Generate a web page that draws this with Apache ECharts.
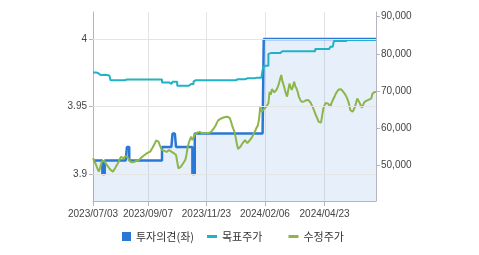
<!DOCTYPE html>
<html><head><meta charset="utf-8">
<script src="https://cdn.jsdelivr.net/npm/echarts@6/dist/echarts.min.js"></script>
<style>html,body{margin:0;padding:0;background:#fff}#c{width:479px;height:255px}</style>
</head><body><div id="c"></div>
<script>
// Korean trading-day calendar (categories)
const startDate = '2023-07-03';
const endDate = '2024-06-28';
const holidays = ['2023-08-15','2023-09-28','2023-09-29','2023-10-02','2023-10-03','2023-10-09','2023-12-25','2023-12-29','2024-01-01','2024-02-09','2024-02-12','2024-03-01','2024-04-10','2024-05-01','2024-05-06','2024-05-15','2024-06-06'];
const tickLabels = ['2023/07/03','2023/09/07','2023/11/23','2024/02/06','2024/04/23'];
const leftTicks = [3.9, 3.95, 4];
const rightTicks = [50000, 60000, 70000, 80000, 90000];

function buildDates(){
  const out = [];
  const d = new Date(startDate + 'T00:00:00Z');
  const e = new Date(endDate + 'T00:00:00Z');
  const hs = new Set(holidays);
  while (d <= e) {
    const iso = d.toISOString().slice(0,10);
    const wd = d.getUTCDay();
    if (wd !== 0 && wd !== 6 && !hs.has(iso)) out.push(iso.replace(/-/g,'/'));
    d.setUTCDate(d.getUTCDate()+1);
  }
  return out;
}
const categories = buildDates();

// 투자의견 (left axis)
const opinion = [
3.91,3.91,3.91,3.91,3.91,3.91,3.91,3.91,3.90,3.90,
3.91,3.91,3.91,3.91,3.91,3.91,3.91,3.91,3.91,3.91,
3.91,3.91,3.91,3.91,3.91,3.91,3.91,3.91,3.91,3.92,
3.92,3.91,3.91,3.91,3.91,3.91,3.91,3.91,3.91,3.91,
3.91,3.91,3.91,3.91,3.91,3.91,3.91,3.91,3.91,3.91,
3.91,3.91,3.91,3.91,3.91,3.91,3.91,3.91,3.91,3.92,
3.92,3.92,3.92,3.92,3.92,3.92,3.92,3.92,3.93,3.93,
3.93,3.92,3.92,3.92,3.92,3.92,3.92,3.92,3.92,3.92,
3.92,3.92,3.92,3.92,3.92,3.90,3.90,3.93,3.93,3.93,
3.93,3.93,3.93,3.93,3.93,3.93,3.93,3.93,3.93,3.93,
3.93,3.93,3.93,3.93,3.93,3.93,3.93,3.93,3.93,3.93,
3.93,3.93,3.93,3.93,3.93,3.93,3.93,3.93,3.93,3.93,
3.93,3.93,3.93,3.93,3.93,3.93,3.93,3.93,3.93,3.93,
3.93,3.93,3.93,3.93,3.93,3.93,3.93,3.93,3.93,3.93,
3.93,3.93,3.93,3.93,3.93,3.93,4,4,4,4,
4,4,4,4,4,4,4,4,4,4,
4,4,4,4,4,4,4,4,4,4,
4,4,4,4,4,4,4,4,4,4,
4,4,4,4,4,4,4,4,4,4,
4,4,4,4,4,4,4,4,4,4,
4,4,4,4,4,4,4,4,4,4,
4,4,4,4,4,4,4,4,4,4,
4,4,4,4,4,4,4,4,4,4,
4,4,4,4,4,4,4,4,4,4,
4,4,4];

// 목표주가 (right axis)
const targetPrice = [
75000,75000,75000,74900,74500,74400,74300,74300,74300,74400,
74300,74300,74200,74200,74200,72900,72900,72900,72900,72900,
72900,72900,72900,72900,72900,72900,72900,73100,73100,73100,
73100,73100,73100,73100,73100,73100,73100,73100,73100,73100,
73100,73100,73100,73100,73100,73100,73100,73100,73100,73100,
73100,73100,73100,73100,73100,73100,73100,73100,73100,72300,
72300,72300,72300,72300,72300,71900,71900,71900,72500,72500,
72500,72500,71400,71400,71400,71400,71400,71400,71400,71400,
71400,71400,71400,71900,71900,71900,72600,72900,72900,72900,
72900,72900,72900,72900,72900,72900,72900,72900,72900,72900,
72900,72900,72900,72900,72900,72900,72900,72900,72900,72900,
72900,72900,72900,72900,72900,72900,72900,72900,72900,72900,
72900,72900,72900,73150,73150,73150,73150,73150,73150,73150,
73400,73400,73400,73400,73400,73400,73400,73400,73600,73600,
73600,73600,73600,73600,73850,75600,76700,76800,76800,76800,
80000,80200,80200,80200,80200,80200,80200,80200,80200,80200,
80200,80700,80700,80700,80700,80700,80700,80700,80700,80700,
80700,80700,80700,80700,80700,80700,80700,80700,80700,80700,
80700,80700,80700,80700,80700,80700,80700,80700,80700,80700,
81300,81300,81300,81300,81300,81300,81300,81300,81300,81300,
81300,81300,81300,81900,81900,81900,83450,83450,83450,83450,
83450,83450,83450,83450,83450,83450,83700,83700,83700,83700,
83700,83700,83700,83700,83700,83700,83700,83700,83700,83700,
83700,83700,83700,83700,83700,83700,83700,83700,83700,83700,
83700,83700,83700];

// 수정주가 (right axis)
const adjPrice = [
51900,51500,50600,49800,49000,48300,49300,50400,51200,51600,
51100,50500,50000,49600,49200,48800,48500,48300,48700,49300,
49800,50400,51000,51700,52300,52100,51900,51900,52500,52700,
52000,51300,50900,50800,50700,50900,51000,51200,51400,51400,
51700,52000,52200,52500,52800,53000,53300,53400,53500,53700,
54200,54800,55300,56000,56700,57200,56400,55500,54800,54100,
54100,53900,53700,53600,53900,54100,54100,53700,53400,53300,
53100,52800,51000,49200,49400,49600,50000,50500,51000,51500,
53000,55000,56200,57000,57700,56800,57500,58300,58600,58800,
59000,59000,58900,58700,58600,58600,58600,58700,58600,58700,
58900,59000,59400,59800,60300,60800,61500,62100,62400,62500,
62600,62800,62900,63000,63100,63100,62900,62700,61800,60700,
59800,59000,57500,55800,54400,54600,55000,55400,56000,56500,
56800,56400,56000,56200,56700,57200,57600,58200,58900,59500,
60200,60800,62500,65700,64400,64800,65100,65300,65700,66200,
66700,69800,69000,70500,70700,69600,69200,70400,71100,72000,
73200,74300,72600,71600,70400,69300,68500,70300,72000,71000,
70300,71300,72500,71300,70700,69800,68500,67800,67200,67300,
67100,67300,67500,67600,67600,67200,66900,66700,65600,64800,
64000,63200,62500,61700,61500,61500,63500,65300,66200,66800,
67100,66600,66100,65800,66800,67500,68000,68800,69500,69900,
70400,70700,70500,70300,69800,69300,68900,68200,67500,66400,
64900,64600,64400,64900,65700,66900,68000,67500,66800,66100,
65500,65800,67000,67300,67400,67500,67700,67800,68000,69300,
69500,69800,69600];

const tickSet = new Set(tickLabels);
const axisCol = '#b4b6be';
const gridCol = '#e4e4e4';
const numFont = 'Liberation Sans';
const krFont = 'Noto Sans CJK KR';

const chart = echarts.init(document.getElementById('c'), null, {renderer:'canvas'});
chart.setOption({
  animation: false,
  grid: {left: 93, right: 103, top: 12, bottom: 54},
  legend: [
    {data: [{name:'투자의견(좌)', icon:'rect'}], left: 117, top: 226, itemWidth: 9, itemHeight: 9, itemGap: 5,
     textStyle: {fontSize: 11, color: '#333', fontFamily: krFont}},
    {data: [{name:'목표주가', icon:'rect'}, {name:'수정주가', icon:'rect'}], left: 202, top: 226, itemWidth: 10, itemHeight: 3, itemGap: 26,
     textStyle: {fontSize: 11, color: '#333', fontFamily: krFont}}
  ],
  xAxis: {
    type: 'category', data: categories, boundaryGap: false,
    axisLine: {lineStyle: {color: axisCol}},
    axisTick: {show: true, interval: (i, v) => tickSet.has(v), length: 5, lineStyle: {color: axisCol}},
    axisLabel: {interval: (i, v) => tickSet.has(v), color: '#444', fontSize: 10, fontFamily: numFont, margin: 8},
    splitLine: {show: true, interval: (i, v) => tickSet.has(v), lineStyle: {color: gridCol}}
  },
  yAxis: [
    {type: 'value', position: 'left', min: 3.88, max: 4.02,
     axisLine: {show: true, lineStyle: {color: axisCol}},
     axisTick: {show: true, customValues: leftTicks, length: 4, lineStyle: {color: axisCol}},
     axisLabel: {customValues: leftTicks, formatter: v => String(+(+v).toFixed(2)), color: '#444', fontSize: 10, fontFamily: numFont, margin: 6},
     splitLine: {show: false}},
    {type: 'value', position: 'right', min: 40400, max: 91260,
     axisLine: {show: true, lineStyle: {color: axisCol}},
     axisTick: {show: true, customValues: rightTicks, length: 4, lineStyle: {color: axisCol}},
     axisLabel: {customValues: rightTicks, formatter: v => Number(v).toLocaleString('en-US'), color: '#444', fontSize: 10, fontFamily: numFont, margin: 5},
     splitLine: {show: false}}
  ],
  series: [
    {type: 'line', yAxisIndex: 0, data: [], z: 1, silent: true,
     markLine: {silent: true, symbol: ['none','none'], label: {show: false},
       lineStyle: {color: gridCol, type: 'solid', width: 1},
       data: leftTicks.map(v => ({yAxis: v}))}},
    {name: '투자의견(좌)', type: 'line', yAxisIndex: 0, data: opinion, step: 'end', symbol: 'none', z: 2,
     lineStyle: {color: '#2a78d6', width: 2.5}, itemStyle: {color: '#2a78d6'},
     areaStyle: {color: 'rgba(42,120,214,0.17)', origin: 'start'}},
    {name: '목표주가', type: 'line', yAxisIndex: 1, data: targetPrice, step: 'end', symbol: 'none', z: 3,
     lineStyle: {color: '#20b2c6', width: 2}, itemStyle: {color: '#20b2c6'}},
    {name: '수정주가', type: 'line', yAxisIndex: 1, data: adjPrice, symbol: 'none', z: 4,
     lineStyle: {color: '#8db648', width: 2}, itemStyle: {color: '#8db648'}}
  ]
});
</script></body></html>
